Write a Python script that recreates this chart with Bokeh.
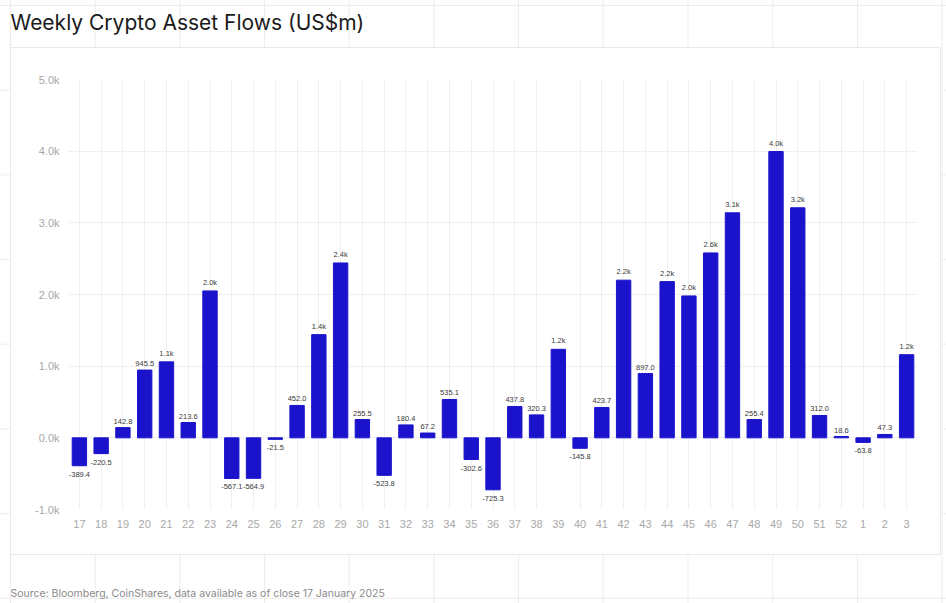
from bokeh.plotting import figure
from bokeh.models import ColumnDataSource, FixedTicker, Title, FactorRange
from bokeh.embed import file_html
from bokeh.resources import INLINE
from bokeh.core.properties import value

weeks = ["17", "18", "19", "20", "21", "22", "23", "24", "25", "26", "27", "28", "29",
         "30", "31", "32", "33", "34", "35", "36", "37", "38", "39", "40", "41", "42",
         "43", "44", "45", "46", "47", "48", "49", "50", "51", "52", "1", "2", "3"]
flows = [-389.4, -220.5, 142.8, 945.5, 1060, 213.6, 2050, -567.1, -564.9, -21.5, 452.0, 1440, 2440,
         255.5, -523.8, 180.4, 67.2, 535.1, -302.6, -725.3, 437.8, 320.3, 1235, -145.8, 423.7, 2200,
         897.0, 2180, 1980, 2580, 3140, 255.4, 3995, 3210, 312.0, 18.6, -63.8, 47.3, 1160]
y_ticks = [-1000, 0, 1000, 2000, 3000, 4000, 5000]

BAR = "#1B13CC"


def fmt(v):
    return f"{v/1000:.1f}k" if abs(v) >= 1000 else f"{v:.1f}"


pos = [(w, v) for w, v in zip(weeks, flows) if v >= 0]
neg = [(w, v) for w, v in zip(weeks, flows) if v < 0]

src = ColumnDataSource(dict(week=weeks, flow=flows))
src_pos = ColumnDataSource(dict(week=[p[0] for p in pos], flow=[p[1] for p in pos],
                                lab=[fmt(p[1]) for p in pos]))
src_neg = ColumnDataSource(dict(week=[p[0] for p in neg], flow=[p[1] for p in neg],
                                lab=[fmt(p[1]) for p in neg]))

W, H = 946, 603
p = figure(width=W, height=H, x_range=FactorRange(*weeks, range_padding=0),
           y_range=(-1000, 5000), output_backend="svg", toolbar_location=None,
           min_border_left=68, min_border_right=29, min_border_top=79, min_border_bottom=94)
p.outline_line_color = None
p.background_fill_color = None
p.border_fill_color = None
p.styles = {
    "background-color": "white",
    "background-image": ("linear-gradient(#ffffff, #ffffff), "
                         "linear-gradient(#e8e8e8, #e8e8e8), "
                         "linear-gradient(90deg, #ececec 1px, transparent 1px), "
                         "linear-gradient(#ececec 1px, transparent 1px)"),
    "background-size": "929px 506px, 931px 508px, 84.7px 84.7px, 84.7px 84.7px",
    "background-position": "11px 48px, 10px 47px, 10px 5px, 10px 5px",
    "background-repeat": "no-repeat, no-repeat, repeat, repeat",
}

p.vbar(x="week", top="flow", bottom=0, width=0.66, source=src, color=BAR)

p.text(x="week", y="flow", text="lab", source=src_pos, text_align="center",
       text_baseline="bottom", y_offset=-4, text_font_size="7.5px",
       text_color="#3a3a3a", text_font=value("Liberation Sans"))
p.text(x="week", y="flow", text="lab", source=src_neg, text_align="center",
       text_baseline="top", y_offset=6, text_font_size="7.5px",
       text_color="#3a3a3a", text_font=value("Liberation Sans"))

p.yaxis.ticker = FixedTicker(ticks=y_ticks)
p.yaxis.major_label_overrides = {t: fmt(t) if t != 0 else "0.0k" for t in y_ticks}
for ax in (p.xaxis[0], p.yaxis[0]):
    ax.axis_line_color = None
    ax.major_tick_line_color = None
    ax.minor_tick_line_color = None
    ax.major_label_text_color = "#a8a8a8"
    ax.major_label_text_font = "Liberation Sans"
p.yaxis.major_label_text_font_size = "11px"
p.yaxis.major_label_standoff = 3
p.xaxis.major_label_text_font_size = "11px"
p.xaxis.major_label_standoff = 4

p.xgrid.grid_line_color = "#efefef"
p.ygrid.grid_line_color = "#efefef"

# spacer panels (nearest the frame) then the real texts further out
p.add_layout(Title(text=" ", text_font_size="10px", standoff=32), "above")
p.add_layout(Title(text="Weekly Crypto Asset Flows (US$m)", align="left", offset=-58,
                   standoff=0, text_font="Inter", text_font_size="21px",
                   text_font_style="normal", text_color="#1a1a1a"), "above")
p.add_layout(Title(text=" ", text_font_size="10px", standoff=41), "below")
p.add_layout(Title(text="Source: Bloomberg, CoinShares, data available as of close 17 January 2025",
                   align="left", offset=-58, standoff=0, text_font="Inter",
                   text_font_size="10.5px", text_font_style="normal",
                   text_color="#8a8a8a"), "below")

open("out.html", "w").write(file_html(p, INLINE))
